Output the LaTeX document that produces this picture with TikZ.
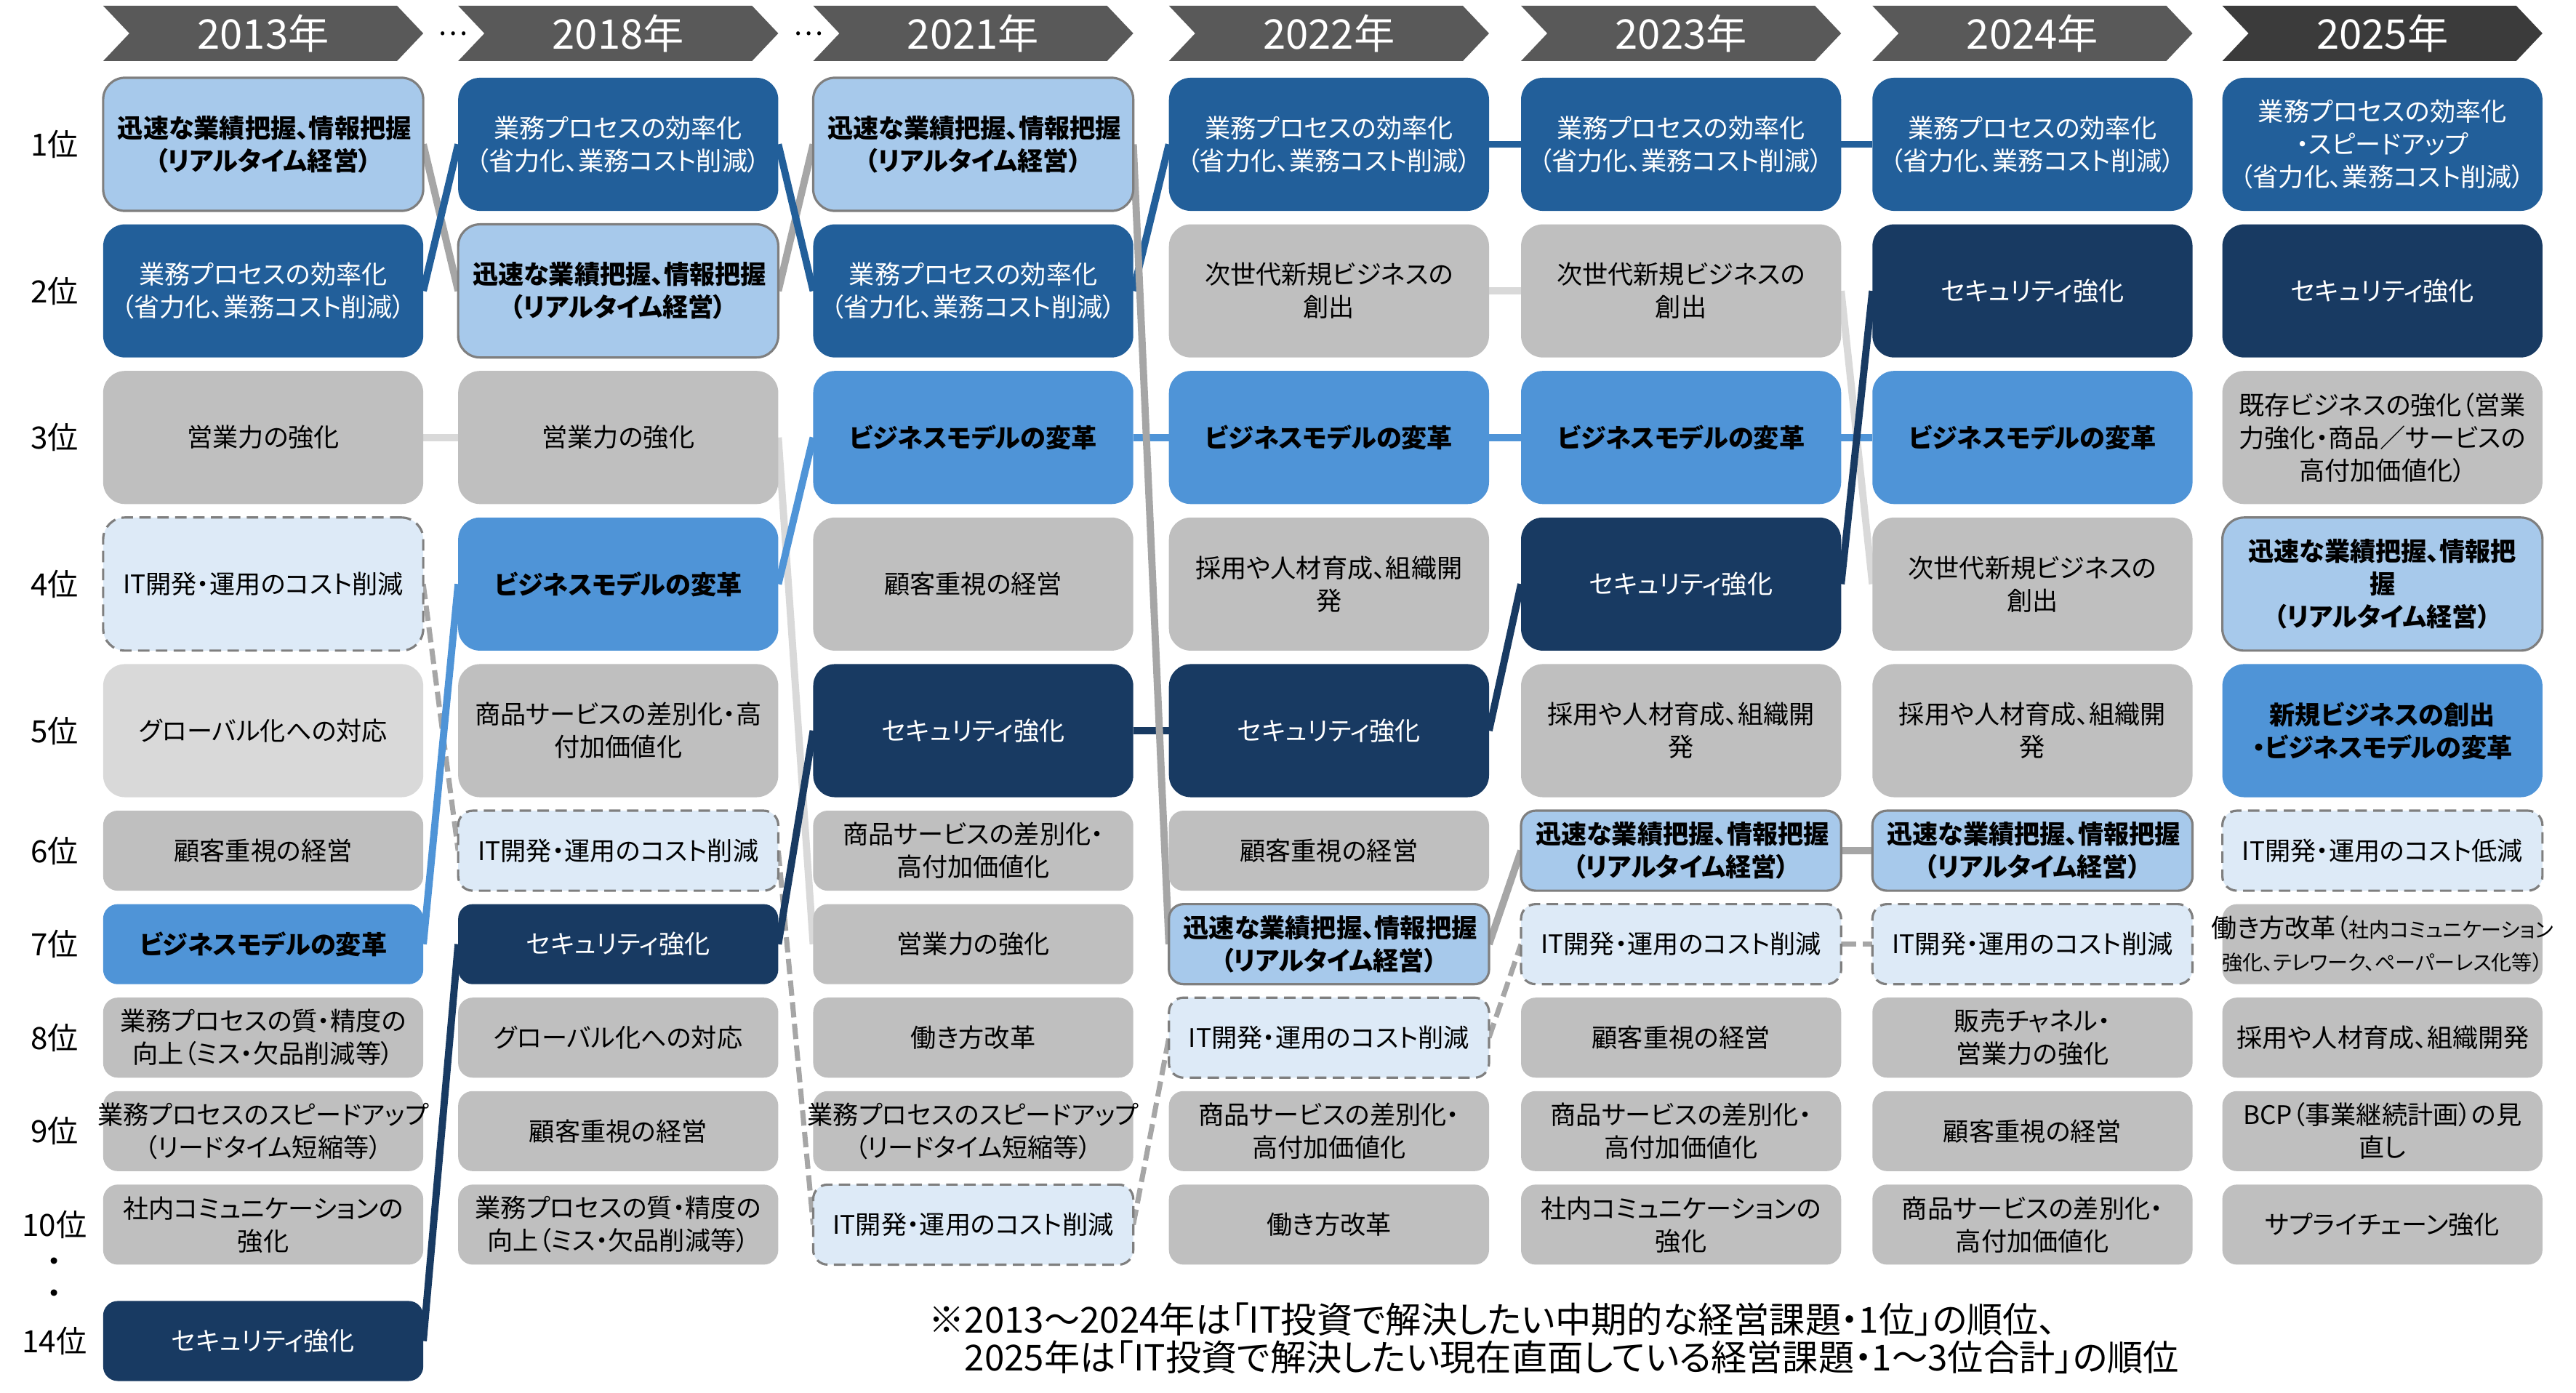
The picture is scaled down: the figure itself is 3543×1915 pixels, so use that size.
\documentclass[tikz,border=0pt]{standalone}
\usepackage{fontspec}
\setmainfont{Noto Sans CJK JP}[RawFeature=+palt]
\usetikzlibrary{positioning,shapes.symbols,backgrounds}

\definecolor{bizblue}{HTML}{225F9A}
\definecolor{secnavy}{HTML}{183A62}
\definecolor{modelblue}{HTML}{4F94D7}
\definecolor{rtblue}{HTML}{A7C9EB}
\definecolor{costblue}{HTML}{DDEAF7}
\definecolor{boxgray}{HTML}{BFBFBF}
\definecolor{palegray}{HTML}{D9D9D9}
\definecolor{hdrgray}{HTML}{595959}
\definecolor{hdrdark}{HTML}{3B3B3B}
\definecolor{rimgray}{HTML}{7F7F7F}
\definecolor{linkgray}{HTML}{A6A6A6}

\newcommand{\wideline}[1]{\makebox[4cm]{#1}}

\tikzset{
  topic/.style={align=center, text width=4cm, inner xsep=0.2cm, inner ysep=0pt, outer sep=0pt, minimum width=4.4cm, font=\fontsize{10}{12.8}\selectfont},
  rowbig/.style={topic, minimum height=1.83cm, rounded corners=0.3cm},
  rowsmall/.style={topic, minimum height=1.1cm, rounded corners=0.2cm},
  grayt/.style={fill=boxgray},
  palet/.style={fill=palegray},
  rtt/.style={fill=rtblue, draw=rimgray, line width=0.9pt, font=\fontsize{10}{12.8}\selectfont\bfseries},
  costt/.style={fill=costblue, draw=rimgray, line width=0.9pt, dash pattern=on 4.5pt off 2.5pt},
  modelt/.style={fill=modelblue, font=\fontsize{10}{12.8}\selectfont\bfseries},
  bizt/.style={fill=bizblue, text=white},
  sect/.style={fill=secnavy, text=white},
  yearhdr/.style={signal, signal from=west, signal to=east, signal pointer angle=93, fill=hdrgray, text=white, minimum width=4.4cm, minimum height=0.76cm, inner sep=0pt, outer sep=0pt, font=\fontsize{16}{18}\selectfont},
  rank/.style={font=\fontsize{12}{12.5}\selectfont, inner sep=0pt},
  note/.style={font=\fontsize{14}{16}\selectfont, inner sep=0pt, anchor=west},
  link/.style={line width=2.8pt},
  costlink/.style={line width=2pt, draw=linkgray, dash pattern=on 6pt off 2.5pt},
}

\begin{document}
\begin{tikzpicture}[x=0.01cm, y=-0.01cm, node distance=0.185cm and 0.455cm]
\useasboundingbox (0,0) rectangle (3543,1915);

% 2013
\node[rowbig, rtt] (y13r1) at (362,198.5) {迅速な業績把握、情報把握\\（リアルタイム経営）};
\node[rowbig, bizt, below=of y13r1] (y13r2) {業務プロセスの効率化\\（省力化、業務コスト削減）};
\node[rowbig, grayt, below=of y13r2] (y13r3) {営業力の強化};
\node[rowbig, costt, below=of y13r3] (y13r4) {IT開発・運用のコスト削減};
\node[rowbig, palet, below=of y13r4] (y13r5) {グローバル化への対応};
\node[rowsmall, grayt, below=of y13r5] (y13r6) {顧客重視の経営};
\node[rowsmall, modelt, below=of y13r6] (y13r7) {ビジネスモデルの変革};
\node[rowsmall, grayt, below=of y13r7] (y13r8) {業務プロセスの質・精度の\\向上（ミス・欠品削減等）};
\node[rowsmall, grayt, below=of y13r8] (y13r9) {\wideline{業務プロセスのスピードアップ}\\（リードタイム短縮等）};
\node[rowsmall, grayt, below=of y13r9] (y13r10) {社内コミュニケーションの\\強化};
\node[rowsmall, sect, below=0.5cm of y13r10] (y13r14) {セキュリティ強化};

% 2018
\node[rowbig, bizt, right=0.48cm of y13r1] (y18r1) {業務プロセスの効率化\\（省力化、業務コスト削減）};
\node[rowbig, rtt, below=of y18r1] (y18r2) {迅速な業績把握、情報把握\\（リアルタイム経営）};
\node[rowbig, grayt, below=of y18r2] (y18r3) {営業力の強化};
\node[rowbig, modelt, below=of y18r3] (y18r4) {ビジネスモデルの変革};
\node[rowbig, grayt, below=of y18r4] (y18r5) {商品サービスの差別化・高\\付加価値化};
\node[rowsmall, costt, below=of y18r5] (y18r6) {IT開発・運用のコスト削減};
\node[rowsmall, sect, below=of y18r6] (y18r7) {セキュリティ強化};
\node[rowsmall, grayt, below=of y18r7] (y18r8) {グローバル化への対応};
\node[rowsmall, grayt, below=of y18r8] (y18r9) {顧客重視の経営};
\node[rowsmall, grayt, below=of y18r9] (y18r10) {業務プロセスの質・精度の\\向上（ミス・欠品削減等）};

% 2021
\node[rowbig, rtt, right=0.48cm of y18r1] (y21r1) {迅速な業績把握、情報把握\\（リアルタイム経営）};
\node[rowbig, bizt, below=of y21r1] (y21r2) {業務プロセスの効率化\\（省力化、業務コスト削減）};
\node[rowbig, modelt, below=of y21r2] (y21r3) {ビジネスモデルの変革};
\node[rowbig, grayt, below=of y21r3] (y21r4) {顧客重視の経営};
\node[rowbig, sect, below=of y21r4] (y21r5) {セキュリティ強化};
\node[rowsmall, grayt, below=of y21r5] (y21r6) {商品サービスの差別化・\\高付加価値化};
\node[rowsmall, grayt, below=of y21r6] (y21r7) {営業力の強化};
\node[rowsmall, grayt, below=of y21r7] (y21r8) {働き方改革};
\node[rowsmall, grayt, below=of y21r8] (y21r9) {\wideline{業務プロセスのスピードアップ}\\（リードタイム短縮等）};
\node[rowsmall, costt, below=of y21r9] (y21r10) {IT開発・運用のコスト削減};

% 2022
\node[rowbig, bizt, right=0.49cm of y21r1] (y22r1) {業務プロセスの効率化\\（省力化、業務コスト削減）};
\node[rowbig, grayt, below=of y22r1] (y22r2) {次世代新規ビジネスの\\創出};
\node[rowbig, modelt, below=of y22r2] (y22r3) {ビジネスモデルの変革};
\node[rowbig, grayt, below=of y22r3] (y22r4) {採用や人材育成、組織開\\発};
\node[rowbig, sect, below=of y22r4] (y22r5) {セキュリティ強化};
\node[rowsmall, grayt, below=of y22r5] (y22r6) {顧客重視の経営};
\node[rowsmall, rtt, below=of y22r6] (y22r7) {迅速な業績把握、情報把握\\（リアルタイム経営）};
\node[rowsmall, costt, below=of y22r7] (y22r8) {IT開発・運用のコスト削減};
\node[rowsmall, grayt, below=of y22r8] (y22r9) {商品サービスの差別化・\\高付加価値化};
\node[rowsmall, grayt, below=of y22r9] (y22r10) {働き方改革};

% 2023
\node[rowbig, bizt, right=0.44cm of y22r1] (y23r1) {業務プロセスの効率化\\（省力化、業務コスト削減）};
\node[rowbig, grayt, below=of y23r1] (y23r2) {次世代新規ビジネスの\\創出};
\node[rowbig, modelt, below=of y23r2] (y23r3) {ビジネスモデルの変革};
\node[rowbig, sect, below=of y23r3] (y23r4) {セキュリティ強化};
\node[rowbig, grayt, below=of y23r4] (y23r5) {採用や人材育成、組織開\\発};
\node[rowsmall, rtt, below=of y23r5] (y23r6) {迅速な業績把握、情報把握\\（リアルタイム経営）};
\node[rowsmall, costt, below=of y23r6] (y23r7) {IT開発・運用のコスト削減};
\node[rowsmall, grayt, below=of y23r7] (y23r8) {顧客重視の経営};
\node[rowsmall, grayt, below=of y23r8] (y23r9) {商品サービスの差別化・\\高付加価値化};
\node[rowsmall, grayt, below=of y23r9] (y23r10) {社内コミュニケーションの\\強化};

% 2024
\node[rowbig, bizt, right=0.43cm of y23r1] (y24r1) {業務プロセスの効率化\\（省力化、業務コスト削減）};
\node[rowbig, sect, below=of y24r1] (y24r2) {セキュリティ強化};
\node[rowbig, modelt, below=of y24r2] (y24r3) {ビジネスモデルの変革};
\node[rowbig, grayt, below=of y24r3] (y24r4) {次世代新規ビジネスの\\創出};
\node[rowbig, grayt, below=of y24r4] (y24r5) {採用や人材育成、組織開\\発};
\node[rowsmall, rtt, below=of y24r5] (y24r6) {迅速な業績把握、情報把握\\（リアルタイム経営）};
\node[rowsmall, costt, below=of y24r6] (y24r7) {IT開発・運用のコスト削減};
\node[rowsmall, grayt, below=of y24r7] (y24r8) {販売チャネル・\\営業力の強化};
\node[rowsmall, grayt, below=of y24r8] (y24r9) {顧客重視の経営};
\node[rowsmall, grayt, below=of y24r9] (y24r10) {商品サービスの差別化・\\高付加価値化};

% 2025
\node[rowbig, bizt, right=0.41cm of y24r1] (y25r1) {業務プロセスの効率化\\・スピードアップ\\（省力化、業務コスト削減）};
\node[rowbig, sect, below=of y25r1] (y25r2) {セキュリティ強化};
\node[rowbig, grayt, below=of y25r2] (y25r3) {既存ビジネスの強化（営業\\力強化・商品／サービスの\\高付加価値化）};
\node[rowbig, rtt, below=of y25r3] (y25r4) {迅速な業績把握、情報把\\握\\（リアルタイム経営）};
\node[rowbig, modelt, below=of y25r4] (y25r5) {新規ビジネスの創出\\・ビジネスモデルの変革};
\node[rowsmall, costt, below=of y25r5] (y25r6) {IT開発・運用のコスト低減};
\node[rowsmall, grayt, below=of y25r6] (y25r7) {\wideline{働き方改革（{\fontsize{8}{10}\selectfont 社内コミュニケーション}}\\\wideline{\fontsize{8}{10}\selectfont 強化、テレワーク、ペーパーレス化等）}};
\node[rowsmall, grayt, below=of y25r7] (y25r8) {採用や人材育成、組織開発};
\node[rowsmall, grayt, below=of y25r8] (y25r9) {BCP（事業継続計画）の見\\直し};
\node[rowsmall, grayt, below=of y25r9] (y25r10) {サプライチェーン強化};

% year headers
\node[yearhdr, above=0.23cm of y13r1] (h13) {2013年};
\node[yearhdr, above=0.23cm of y18r1] (h18) {2018年};
\node[yearhdr, above=0.23cm of y21r1] (h21) {2021年};
\node[yearhdr, above=0.23cm of y22r1] (h22) {2022年};
\node[yearhdr, above=0.23cm of y23r1] (h23) {2023年};
\node[yearhdr, above=0.23cm of y24r1] (h24) {2024年};
\node[yearhdr, fill=hdrdark, above=0.23cm of y25r1] (h25) {2025年};
\node[font=\fontsize{11}{12}\selectfont, inner sep=0pt, right=0.2cm of h13] (skip1) {…};
\node[font=\fontsize{11}{12}\selectfont, inner sep=0pt, right=0.2cm of h18] (skip2) {…};

% ranks
\coordinate (rkx) at (75,0);
\foreach \rnk in {1,...,10}
  \node[rank] (rk\rnk) at (y13r\rnk -| rkx) {\rnk 位};
\node[rank] (rk14) at (y13r14 -| rkx) {14位};
\node[rank] (rkdot1) at (75,1740) {・};
\node[rank] (rkdot2) at (75,1784) {・};

% note
\node[note] (note1) at (1277,1815) {※2013～2024年は「IT投資で解決したい中期的な経営課題・1位」の順位、};
\node[note] (note2) at (1326,1867) {2025年は「IT投資で解決したい現在直面している経営課題・1～3位合計」の順位};

% links
\begin{scope}[on background layer]
  \draw[link, linkgray] (y13r1.east) -- (y18r2.west);
  \draw[link, bizblue] (y13r2.east) -- (y18r1.west);
  \draw[link, palegray] (y13r3.east) -- (y18r3.west);
  \draw[costlink] (y13r4.east) -- (y18r6.west);
  \draw[link, modelblue] (y13r7.east) -- (y18r4.west);
  \draw[link, secnavy] (y13r14.east) -- (y18r7.west);

  \draw[link, palegray] (y18r3.east) -- (y21r7.west);
  \draw[link, linkgray] (y18r2.east) -- (y21r1.west);
  \draw[link, bizblue] (y18r1.east) -- (y21r2.west);
  \draw[link, modelblue] (y18r4.east) -- (y21r3.west);
  \draw[costlink] (y18r6.east) -- (y21r10.west);
  \draw[link, secnavy] (y18r7.east) -- (y21r5.west);

  \draw[link, modelblue] (y21r3.east) -- (y22r3.west);
  \draw[link, secnavy] (y21r5.east) -- (y22r5.west);
  \draw[costlink] (y21r10.east) -- (y22r8.west);
  \draw[link, bizblue] (y21r2.east) -- (y22r1.west);
  \draw[link, linkgray] (y21r1.east) -- (y22r7.west);

  \draw[link, bizblue] (y22r1.east) -- (y23r1.west);
  \draw[link, palegray] (y22r2.east) -- (y23r2.west);
  \draw[link, modelblue] (y22r3.east) -- (y23r3.west);
  \draw[link, secnavy] (y22r5.east) -- (y23r4.west);
  \draw[link, linkgray] (y22r7.east) -- (y23r6.west);
  \draw[costlink] (y22r8.east) -- (y23r7.west);

  \draw[link, bizblue] (y23r1.east) -- (y24r1.west);
  \draw[link, palegray] (y23r2.east) -- (y24r4.west);
  \draw[link, modelblue] (y23r3.east) -- (y24r3.west);
  \draw[link, secnavy] (y23r4.east) -- (y24r2.west);
  \draw[link, linkgray] (y23r6.east) -- (y24r6.west);
  \draw[costlink] (y23r7.east) -- (y24r7.west);
\end{scope}
\end{tikzpicture}
\end{document}
